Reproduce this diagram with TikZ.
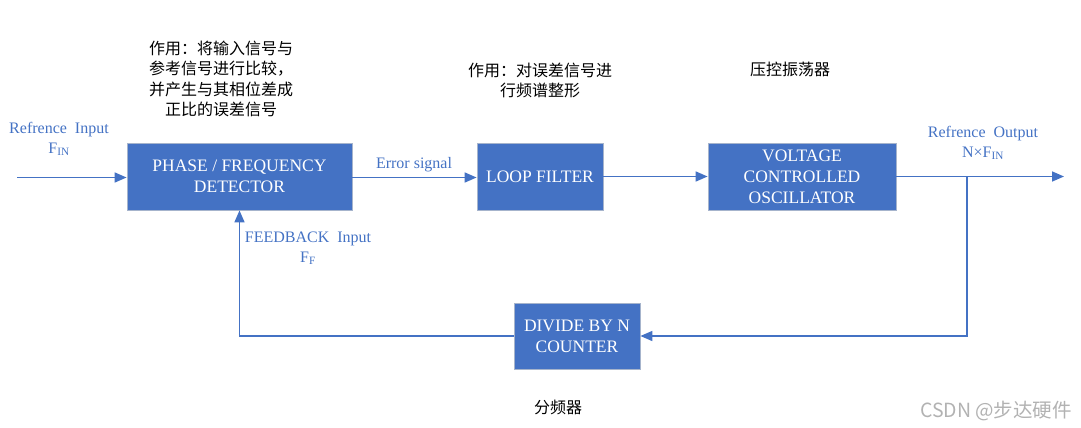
\documentclass[tikz,border=0pt]{standalone}
\usepackage{fontspec}
\setmainfont{Liberation Serif}
\newfontfamily\cjk{Noto Sans CJK SC}
\usetikzlibrary{arrows.meta,positioning}
\definecolor{pllblue}{HTML}{4472C4}
\definecolor{pllgray}{HTML}{A6B4CC}

\tikzset{
  blockbox/.style={draw=pllgray,line width=0.8pt,fill=pllblue,text=white,
    font=\fontsize{17.5}{21}\selectfont,align=center,inner sep=0pt},
  sigline/.style={draw=pllblue,line width=1.6pt},
  sigarrow/.style={sigline,-{Triangle[length=12pt,width=10pt]}},
  siglabel/.style={text=pllblue,font=\fontsize{16}{20}\selectfont,align=center},
  cjknote/.style={font=\cjk\fontsize{16}{20.5}\selectfont,align=center}
}

\begin{document}
\begin{tikzpicture}[x=1pt,y=-1pt]
  \useasboundingbox (0,0) rectangle (1081,428);

  \node[blockbox,minimum width=225pt,minimum height=67pt] (pfd) at (239.5,176.5) {PHASE / FREQUENCY\\DETECTOR};
  \node[blockbox,minimum width=126pt,minimum height=67pt] (lf) at (540,176.5) {LOOP FILTER};
  \node[blockbox,minimum width=188pt,minimum height=67pt] (vco) at (802,176.5) {VOLTAGE\\CONTROLLED\\OSCILLATOR};
  \node[blockbox,minimum width=126pt,minimum height=66pt] (div) at (577,336) {DIVIDE BY N\\COUNTER};

  \coordinate (in) at (17,177.5);
  \coordinate (out) at (1064,176.5);
  \coordinate (tap) at (967,176.5);

  \draw[sigarrow] (in) -- (in -| pfd.west);
  \draw[sigarrow] (pfd.east |- in) -- (lf.west |- in);
  \draw[sigarrow] (lf.east) -- (vco.west);
  \draw[sigarrow] (vco.east) -- (out);
  \draw[sigarrow] (tap) |- (div.east);
  \draw[sigarrow] (div.west) -| (pfd.south);

  \node[siglabel] (inlbl) at (59,139) {Refrence\ \ Input\\F\textsubscript{IN}};
  \node[siglabel] (errlbl) at (414,165) {Error signal};
  \node[siglabel] (outlbl) at (983,143) {Refrence\ \ Output\\N×F\textsubscript{IN}};
  \node[siglabel] (fblbl) at (308,248) {FEEDBACK\ \ Input\\F\textsubscript{F}};

  \node[cjknote] (pfdnote) at (221,79) {作用：将输入信号与\\参考信号进行比较，\\并产生与其相位差成\\正比的误差信号};
  \node[cjknote] (lfnote) at (540,80.5) {作用：对误差信号进\\行频谱整形};
  \node[cjknote] (vconote) at (790,69) {压控振荡器};
  \node[cjknote] (divnote) at (558,407) {分频器};

  % watermark
  \node[font=\cjk\fontsize{19.5}{21}\selectfont,text=black!30] (mark) at (996,411) {CSDN @步达硬件};
\end{tikzpicture}
\end{document}
